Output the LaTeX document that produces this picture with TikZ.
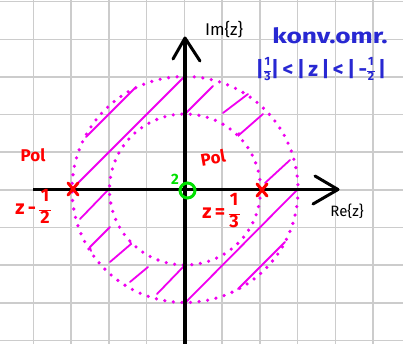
\documentclass[tikz,border=0pt]{standalone}
\usepackage{fontspec}
\setmainfont{Fira Sans}
\usetikzlibrary{calc}
\definecolor{mag}{RGB}{240,0,240}
\definecolor{penblue}{RGB}{40,40,210}
\definecolor{penred}{RGB}{255,0,0}
\definecolor{pengreen}{RGB}{0,225,0}
\newcommand\hfr[3]{$\vcenter{\hbox{\fontsize{#3}{#3}\selectfont\begin{tabular}{@{}c@{}}#1\\[-0.45em]\rule{0.62em}{0.09em}\\[-0.3em]#2\end{tabular}}}$}
\begin{document}
\begin{tikzpicture}[x=1pt,y=-1pt,
  gridline/.style={draw=black!20,line width=1.6pt},
  axisline/.style={draw=black,line width=3.2pt},
  arrowstroke/.style={draw=black,line width=3pt,line cap=round,line join=round},
  dotcircle/.style={draw=mag,line width=3.6pt,line cap=round,dash pattern=on 0pt off 8.6pt},
  hatch/.style={draw=mag,line width=1.8pt,line cap=round},
  redtext/.style={text=penred,font=\bfseries\fontsize{17}{17}\selectfont,inner sep=0pt},
  bluetext/.style={text=penblue,font=\bfseries\fontsize{21}{21}\selectfont,inner sep=0pt},
  blacktext/.style={text=black,font=\fontsize{17}{17}\selectfont,inner sep=0pt},
  polemark/.style={draw=penred,line width=3pt,line cap=round},
  zeromark/.style={draw=pengreen,line width=3pt}]
\useasboundingbox (0,0) rectangle (403,344);
\fill[white] (0,0) rectangle (403,344);
% grid
\foreach \k in {0,...,9} {
  \draw[gridline] ({33.3+37.75*\k},0) -- ({33.3+37.75*\k},344);
  \draw[gridline] (0,{1.7+37.65*\k}) -- (403,{1.7+37.65*\k});
}
% origin
\coordinate (O) at (185,189.5);
% circles
\draw[dotcircle] (O) circle (113);
\draw[dotcircle] (O) circle (75.5);
% hatching
\draw[hatch] (86,137) -- (135,88);
\draw[hatch] (185,76) -- (74,187);
\draw[hatch] (185,114) -- (213,86);
\draw[hatch] (223,113) -- (248,94);
\draw[hatch] (239,133) -- (239,135) -- (263,114);
\draw[hatch] (265,183) -- (290,160);
\draw[hatch] (297,190) -- (185,303);
\draw[hatch] (185,265) -- (157,294);
\draw[hatch] (285,242) -- (238,289);
\draw[hatch] (108,190) -- (80,219);
\draw[hatch] (110,227) -- (90,247) -- (91,251);
\draw[hatch] (130,241) -- (131,244) -- (110,262);
\draw[hatch] (148,267) -- (130,282);
% axes
\coordinate (xs) at (33,189.5);
\coordinate (xe) at (338,189.5);
\coordinate (ys) at (185,344);
\coordinate (ye) at (185,38);
\draw[axisline] (xs) -- (xe);
\draw[axisline] (ys) -- (ye);
\draw[arrowstroke] (315,176) -- (xe) -- (313,204);
\draw[arrowstroke] (173,59) -- (ye) -- (200,61);
% poles
\coordinate (p1) at (73,189);
\coordinate (p2) at (262,190);
\draw[polemark] ($(p1)+(-5,-6)$) -- ($(p1)+(5,6)$) ($(p1)+(5,-6)$) -- ($(p1)+(-5,6)$);
\draw[polemark] ($(p2)+(-5,-6)$) -- ($(p2)+(5,6)$) ($(p2)+(5,-6)$) -- ($(p2)+(-5,6)$);
% zero
\draw[zeromark] (187.5,190.5) circle (7.5);
\node[text=pengreen,font=\bfseries\fontsize{15}{15}\selectfont,inner sep=0pt] (zl) at (175,179) {2};
% labels
\node[blacktext] (im) at (224,30) {Im\{z\}};
\node[blacktext,font=\fontsize{15}{15}\selectfont] (re) at (347,211) {Re\{z\}};
\node[bluetext,xscale=1.25] (konv) at (330,36) {konv.omr.};
\node[bluetext,font=\bfseries\fontsize{21}{21}\selectfont] (ineq) at (321,71) {|\hfr{1}{3}{12}|\,<\,|\,z\,|\,<\,|\,-\hfr{1}{2}{12}\,|};
\node[redtext] (pol1) at (33,155) {Pol};
\node[redtext,rotate=10] (pol2) at (213,158) {Pol};
\node[redtext,font=\bfseries\fontsize{20}{20}\selectfont] (z1) at (33,209) {z\,-\,\hfr{1}{2}{18}};
\node[redtext,font=\bfseries\fontsize{20}{20}\selectfont] (z2) at (221,213) {z\,=\,\hfr{1}{3}{18}};
\end{tikzpicture}
\end{document}
